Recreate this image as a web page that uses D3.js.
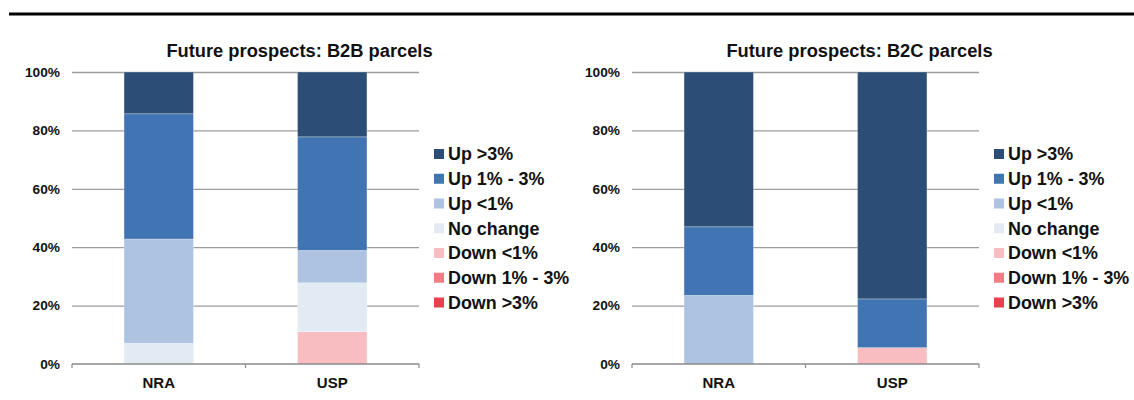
<!DOCTYPE html>
<html>
<head>
<meta charset="utf-8">
<script src="https://cdn.jsdelivr.net/npm/d3@7"></script>
<style>
  html, body { margin: 0; padding: 0; background: #fff; }
  svg { display: block; font-family: "Liberation Sans", Arial, sans-serif; }
</style>
</head>
<body>
<svg id="chart" width="1134" height="400"></svg>
<script>
// ---- Data ----
const categories = ["NRA", "USP"];
const seriesNames = ["Up >3%", "Up 1% - 3%", "Up <1%", "No change", "Down <1%", "Down 1% - 3%", "Down >3%"];
const seriesColors = ["#2C4D76", "#4174B3", "#AEC3E1", "#E2EAF4", "#F8BDC0", "#F17D84", "#E8404C"];
const yTicks = [0, 20, 40, 60, 80, 100];

const b2bTitle = "Future prospects: B2B parcels";
const b2bUpGt3    = [14.3, 22.2];
const b2bUp1to3   = [42.9, 38.9];
const b2bUpLt1    = [35.7, 11.1];
const b2bNoChange = [7.1, 16.7];
const b2bDownLt1  = [0, 11.1];
const b2bDown1to3 = [0, 0];
const b2bDownGt3  = [0, 0];

const b2cTitle = "Future prospects: B2C parcels";
const b2cUpGt3    = [53.0, 77.7];
const b2cUp1to3   = [23.5, 16.7];
const b2cUpLt1    = [23.5, 0];
const b2cNoChange = [0, 0];
const b2cDownLt1  = [0, 5.6];
const b2cDown1to3 = [0, 0];
const b2cDownGt3  = [0, 0];

const svg = d3.select("#chart");

// top rule
svg.append("line").attr("x1", 9).attr("x2", 1134).attr("y1", 14).attr("y2", 14)
  .attr("stroke", "#000").attr("stroke-width", 3);

function buildRows(arrs) {
  return categories.map((c, i) => {
    const row = { cat: c };
    seriesNames.forEach((s, k) => row[s] = arrs[k][i]);
    return row;
  });
}

function drawChart(offsetX, title, arrs) {
  const g = svg.append("g").attr("transform", `translate(${offsetX},0)`);
  const left = 72, right = 419, top = 72, bottom = 364;

  const x = d3.scaleBand().domain(categories).range([left, right])
    .paddingInner(0.6).paddingOuter(0.3);
  const y = d3.scaleLinear().domain([0, 100]).range([bottom, top]);

  // gridlines
  const grid = g.append("g").attr("transform", `translate(${left},0)`)
    .call(d3.axisLeft(y).tickValues(yTicks.filter(t => t > 0)).tickSize(-(right - left)).tickFormat(""));
  grid.select(".domain").remove();
  grid.selectAll(".tick line").attr("stroke", "#9c9c9c").attr("stroke-width", 1.3);

  // y labels
  const ya = g.append("g").attr("transform", `translate(${left},0)`)
    .call(d3.axisLeft(y).tickValues(yTicks).tickSize(0).tickPadding(12).tickFormat(d => d + "%"));
  ya.select(".domain").remove();
  ya.selectAll("text").attr("font-size", "13.7px").attr("font-weight", "bold")
    .attr("fill", "#111").style("font-family", '"Liberation Sans", Arial, sans-serif');

  // stacked bars
  const rows = buildRows(arrs);
  const order = seriesNames.slice().reverse(); // bottom -> top
  const stack = d3.stack().keys(order)(rows);
  const color = d3.scaleOrdinal().domain(seriesNames).range(seriesColors);
  g.append("g").selectAll("g").data(stack).join("g")
    .attr("fill", d => color(d.key))
    .selectAll("rect").data(d => d.filter(p => p[1] - p[0] > 0)).join("rect")
    .attr("x", d => x(d.data.cat))
    .attr("width", x.bandwidth())
    .attr("y", d => y(d[1]))
    .attr("height", d => y(d[0]) - y(d[1]))
    .attr("stroke", "#ffffff").attr("stroke-opacity", 0.35).attr("stroke-width", 0.8);

  // x axis line with ticks at category boundaries
  const xa = g.append("g").attr("transform", `translate(0,${bottom})`);
  xa.append("line").attr("x1", left).attr("x2", right).attr("y1", 0).attr("y2", 0)
    .attr("stroke", "#8a8a8a").attr("stroke-width", 1.3);
  const bounds = [left].concat(categories.map(c => x(c) + x.bandwidth() + x.step() * x.paddingInner() / 2));
  bounds[bounds.length - 1] = right;
  xa.selectAll("line.tk").data(bounds).join("line").attr("class", "tk")
    .attr("x1", d => d).attr("x2", d => d).attr("y1", 0).attr("y2", 4)
    .attr("stroke", "#8a8a8a").attr("stroke-width", 1.2);
  xa.selectAll("text").data(categories).join("text")
    .attr("x", d => x(d) + x.bandwidth() / 2).attr("y", 23.5)
    .attr("text-anchor", "middle").attr("font-size", "15px").attr("font-weight", "bold")
    .attr("fill", "#111").text(d => d);

  // title
  g.append("text").attr("x", (left + right) / 2 + 54).attr("y", 57)
    .attr("text-anchor", "middle").attr("font-size", "18.3px").attr("font-weight", "bold")
    .attr("fill", "#111").text(title);

  // legend
  const leg = g.append("g").attr("transform", "translate(434,154)");
  const items = leg.selectAll("g").data(seriesNames).join("g")
    .attr("transform", (d, i) => `translate(0,${i * 24.75})`);
  items.append("rect").attr("x", 0).attr("y", -5).attr("width", 10).attr("height", 10)
    .attr("fill", d => color(d));
  items.append("text").attr("x", 14).attr("y", 0).attr("dy", "0.35em")
    .attr("font-size", "17.9px").attr("font-weight", "bold").attr("fill", "#111").text(d => d);
}

drawChart(0, b2bTitle, [b2bUpGt3, b2bUp1to3, b2bUpLt1, b2bNoChange, b2bDownLt1, b2bDown1to3, b2bDownGt3]);
drawChart(560, b2cTitle, [b2cUpGt3, b2cUp1to3, b2cUpLt1, b2cNoChange, b2cDownLt1, b2cDown1to3, b2cDownGt3]);
</script>
</body>
</html>
